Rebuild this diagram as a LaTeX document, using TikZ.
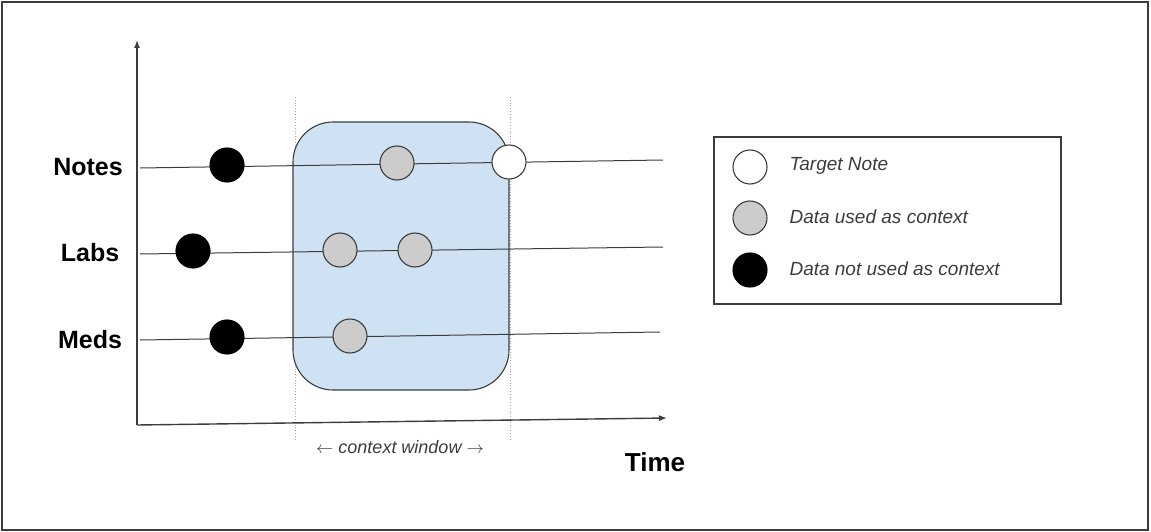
\documentclass[tikz,border=0pt]{standalone}
\usepackage{fontspec}
\setmainfont{Liberation Sans}
\usetikzlibrary{arrows.meta}
\definecolor{ink}{RGB}{60,60,60}
\definecolor{winblue}{RGB}{207,226,243}
\definecolor{ctxgray}{RGB}{204,204,204}
\tikzset{
  dot/.style={circle, draw=ink, line width=1.1pt, minimum size=34pt, inner sep=0pt},
  target/.style={dot, fill=white},
  used/.style={dot, fill=ctxgray},
  unused/.style={dot, fill=black, draw=black},
  track/.style={draw=ink, line width=1pt},
  axis/.style={draw=ink, line width=1.4pt, -{Latex[length=8pt,width=6pt]}},
  rowlabel/.style={font=\fontsize{25}{28}\selectfont\bfseries, anchor=center},
  legtext/.style={font=\fontsize{19}{22}\selectfont\itshape, text=ink, anchor=west},
  guide/.style={draw=gray!70, line width=0.8pt, dotted}
}
\begin{document}
\begin{tikzpicture}[x=1pt, y=-1pt]
\useasboundingbox (0,0) rectangle (1151,532);
\draw[ink, line width=1.5pt] (2,2) rectangle (1148,530);
% guides
\coordinate (g1t) at (295,97); \coordinate (g1b) at (295,440);
\coordinate (g2t) at (510,97); \coordinate (g2b) at (510,440);
\draw[guide] (g1t) -- (g1b);
\draw[guide] (g2t) -- (g2b);
% context window
\draw[ink, line width=1.1pt, fill=winblue, rounded corners=40pt] (293,122) rectangle (509,390);
% axes
\coordinate (origin) at (137,425);
\coordinate (ytop) at (137,40);
\coordinate (xend) at (667,418);
\draw[axis] (origin) -- (ytop);
\draw[axis] (origin) -- (xend);
% tracks
\coordinate (ns) at (140,168); \coordinate (ne) at (663,160);
\coordinate (ls) at (140,254); \coordinate (le) at (663,247);
\coordinate (ms) at (140,340); \coordinate (me) at (660,332);
\draw[track] (ns) -- (ne);
\draw[track] (ls) -- (le);
\draw[track] (ms) -- (me);
% labels
\node[rowlabel] (lnotes) at (88,167) {Notes};
\node[rowlabel] (llabs) at (90,253) {Labs};
\node[rowlabel] (lmeds) at (90,340) {Meds};
\node[font=\fontsize{26}{29}\selectfont\bfseries] (ltime) at (655,462) {Time};
\node[font=\fontsize{18}{21}\selectfont\itshape, text=ink] (lwin) at (400,447) {$\leftarrow$ context window $\rightarrow$};
% points
\node[unused] (n1) at (227,165) {};
\node[used] (n2) at (397,163) {};
\node[target] (n3) at (509,162) {};
\node[unused] (l1) at (193,251) {};
\node[used] (l2) at (340,250) {};
\node[used] (l3) at (415,250) {};
\node[unused] (m1) at (227,337) {};
\node[used] (m2) at (350,336) {};
% legend
\draw[ink, line width=1.1pt] (714,137) rectangle (1061,304);
\node[target] (k1) at (750,167) {};
\node[used] (k2) at (750,218) {};
\node[unused] (k3) at (750,270) {};
\node[legtext] (t1) at (786,166) {Target Note};
\node[legtext] (t2) at (786,217) {Data used as context};
\node[legtext] (t3) at (786,269) {Data not used as context};
\end{tikzpicture}
\end{document}
